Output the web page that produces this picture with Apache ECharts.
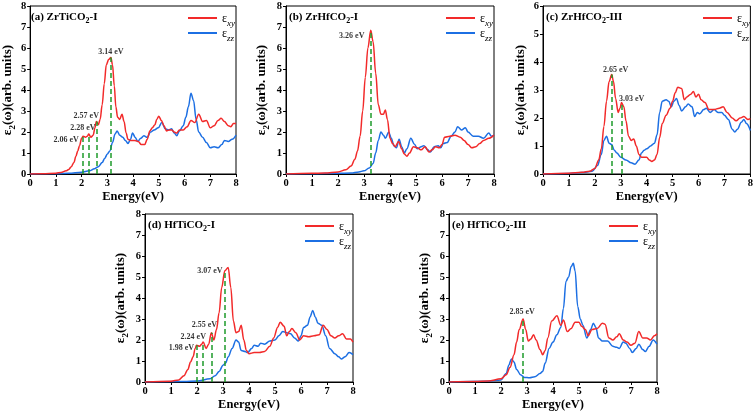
<!DOCTYPE html>
<html>
<head>
<meta charset="utf-8">
<script src="https://cdn.jsdelivr.net/npm/echarts@6/dist/echarts.min.js"></script>
<style>html,body{margin:0;padding:0;background:#fff}#c{width:756px;height:413px}</style>
</head>
<body>
<div id="c"></div>
<script>
// ---------- DATA ----------
const energyTicks = [0,1,2,3,4,5,6,7,8];
// (a) ZrTiCO2-I
const aXY = [[0,0],[0.5,0.01],[1,0.04],[1.2,0.07],[1.4,0.15],[1.5,0.22],[1.6,0.35],[1.7,0.55],[1.78,0.85],[1.85,1.1],[1.92,1.35],[2.0,1.7],[2.06,1.8],[2.15,1.75],[2.22,1.8],[2.28,1.9],[2.36,1.75],[2.45,1.85],[2.52,2.2],[2.57,2.5],[2.65,2.35],[2.72,2.6],[2.8,3.3],[2.88,4.3],[2.96,5.2],[3.05,5.45],[3.14,5.55],[3.2,5.2],[3.27,4.2],[3.33,3.2],[3.4,2.7],[3.48,2.6],[3.57,2.85],[3.65,2.5],[3.73,1.95],[3.8,1.65],[3.9,1.6],[4.05,1.6],[4.2,1.55],[4.32,1.4],[4.45,1.4],[4.55,1.65],[4.65,2.05],[4.75,2.2],[4.85,2.35],[4.92,2.6],[5.0,2.75],[5.1,2.55],[5.2,2.3],[5.3,2.05],[5.4,2.1],[5.5,2.1],[5.6,2.0],[5.7,1.95],[5.8,2.1],[5.95,2.1],[6.1,2.25],[6.25,2.55],[6.4,2.45],[6.55,2.85],[6.7,2.5],[6.85,2.55],[7.0,2.2],[7.15,2.3],[7.3,2.55],[7.42,2.65],[7.55,2.5],[7.7,2.3],[7.8,2.25],[7.9,2.4],[8.0,2.4]];
const aZZ = [[0,0],[1,0.01],[1.5,0.03],[2.0,0.08],[2.3,0.15],[2.5,0.25],[2.65,0.35],[2.8,0.55],[2.9,0.75],[3.0,0.95],[3.1,1.1],[3.2,1.5],[3.3,1.9],[3.38,2.05],[3.48,1.85],[3.6,1.75],[3.7,1.6],[3.8,1.45],[3.9,1.65],[3.98,1.95],[4.08,1.75],[4.18,1.55],[4.3,1.7],[4.42,1.82],[4.55,1.75],[4.68,2.0],[4.82,2.1],[4.98,2.2],[5.12,2.45],[5.25,2.15],[5.38,2.1],[5.5,2.15],[5.6,1.95],[5.7,1.82],[5.8,2.05],[5.95,2.3],[6.05,2.7],[6.15,3.2],[6.25,3.85],[6.35,3.5],[6.45,2.6],[6.55,2.0],[6.7,1.75],[6.85,1.5],[7.0,1.25],[7.15,1.3],[7.3,1.25],[7.45,1.4],[7.55,1.6],[7.7,1.55],[7.85,1.65],[8.0,1.85]];
const aPeaks = [[2.06,1.8],[2.28,1.9],[2.57,2.5],[3.14,5.55]];
// (b) ZrHfCO2-I
const bXY = [[0,0],[1,0.03],[1.5,0.05],[2,0.1],[2.3,0.2],[2.5,0.38],[2.65,0.7],[2.75,1.1],[2.85,1.8],[2.95,3.0],[3.05,4.6],[3.15,6.0],[3.26,6.85],[3.35,6.3],[3.45,4.8],[3.55,3.3],[3.65,2.85],[3.75,2.85],[3.82,3.05],[3.9,2.6],[4.0,1.7],[4.1,1.45],[4.2,1.3],[4.33,1.55],[4.45,1.2],[4.55,0.95],[4.65,0.85],[4.75,1.0],[4.9,1.3],[5.05,1.25],[5.2,1.15],[5.35,1.3],[5.5,1.05],[5.62,1.15],[5.75,1.3],[5.9,1.25],[6.0,1.4],[6.1,1.75],[6.3,1.8],[6.5,1.85],[6.7,1.75],[6.85,1.6],[7.0,1.4],[7.15,1.25],[7.3,1.3],[7.45,1.45],[7.6,1.6],[7.8,1.7],[8.0,1.85]];
const bZZ = [[0,0],[1,0.01],[2,0.03],[2.5,0.05],[2.8,0.1],[3.0,0.15],[3.2,0.28],[3.35,0.5],[3.45,1.0],[3.55,1.6],[3.65,2.0],[3.75,1.85],[3.82,1.7],[3.95,2.0],[4.05,1.7],[4.15,1.35],[4.25,1.25],[4.35,1.65],[4.45,1.3],[4.55,1.0],[4.65,1.2],[4.8,1.7],[4.95,1.4],[5.05,1.2],[5.2,1.3],[5.3,1.35],[5.45,1.15],[5.55,1.05],[5.7,1.3],[5.85,1.35],[5.95,1.25],[6.05,1.45],[6.2,1.5],[6.35,1.8],[6.5,2.0],[6.6,2.25],[6.75,2.1],[6.9,2.2],[7.0,2.0],[7.2,1.8],[7.4,1.8],[7.6,1.7],[7.8,1.95],[7.9,1.8],[8.0,1.85]];
const bPeaks = [[3.26,6.85]];
// (c) ZrHfCO2-III
const cXY = [[0,0],[1,0.03],[1.5,0.06],[1.8,0.1],[2.0,0.2],[2.15,0.5],[2.25,0.9],[2.35,1.7],[2.45,2.6],[2.55,3.3],[2.65,3.55],[2.72,3.3],[2.8,2.7],[2.9,2.2],[2.97,2.35],[3.03,2.55],[3.12,2.4],[3.2,1.9],[3.3,1.35],[3.4,1.2],[3.5,1.25],[3.6,1.0],[3.7,0.7],[3.8,0.6],[3.9,0.6],[4.0,0.6],[4.1,0.5],[4.2,0.45],[4.3,0.5],[4.4,0.7],[4.5,1.3],[4.6,1.8],[4.75,2.1],[4.9,2.35],[5.0,2.6],[5.1,2.9],[5.2,3.1],[5.35,3.05],[5.45,2.65],[5.55,2.75],[5.7,2.85],[5.8,2.95],[5.9,2.75],[6.0,2.85],[6.1,2.65],[6.25,2.55],[6.4,2.3],[6.6,2.3],[6.8,2.35],[6.95,2.4],[7.1,2.2],[7.3,2.0],[7.45,1.9],[7.6,2.0],[7.75,2.05],[7.9,1.95],[8.0,1.98]];
const cZZ = [[0,0],[1,0.02],[1.5,0.05],[1.9,0.1],[2.1,0.3],[2.25,0.7],[2.35,1.2],[2.45,1.35],[2.55,1.1],[2.65,1.05],[2.75,0.85],[2.85,0.75],[3.0,0.6],[3.2,0.5],[3.4,0.4],[3.55,0.35],[3.7,0.5],[3.8,0.75],[3.9,0.85],[4.0,0.9],[4.15,1.0],[4.3,1.1],[4.4,1.4],[4.5,2.2],[4.6,2.6],[4.75,2.65],[4.85,2.6],[4.95,2.4],[5.05,2.6],[5.15,2.7],[5.25,2.45],[5.35,2.25],[5.5,2.4],[5.6,2.5],[5.75,2.4],[5.85,2.05],[5.95,2.2],[6.05,2.15],[6.2,2.3],[6.3,2.35],[6.45,2.2],[6.6,2.3],[6.75,2.2],[6.9,2.2],[7.0,2.1],[7.15,1.95],[7.3,1.6],[7.4,1.5],[7.5,1.6],[7.65,1.85],[7.75,1.95],[7.85,1.8],[8.0,1.55]];
const cPeaks = [[2.65,3.55],[3.03,2.55]];
// (d) HfTiCO2-I
const dXY = [[0,0],[1,0.04],[1.3,0.1],[1.5,0.3],[1.65,0.6],[1.75,0.95],[1.85,1.2],[1.93,1.6],[1.98,1.75],[2.1,1.7],[2.18,1.8],[2.24,1.9],[2.35,1.6],[2.45,1.8],[2.55,2.35],[2.65,2.0],[2.75,2.5],[2.85,3.3],[2.95,4.5],[3.07,5.3],[3.2,5.45],[3.3,4.5],[3.4,2.9],[3.5,2.35],[3.6,2.4],[3.7,2.7],[3.8,2.0],[3.9,1.5],[4.0,1.35],[4.2,1.4],[4.4,1.4],[4.6,1.45],[4.8,1.7],[4.95,2.1],[5.1,2.6],[5.2,2.85],[5.35,2.65],[5.45,2.2],[5.55,2.4],[5.65,2.55],[5.8,2.35],[5.95,2.0],[6.1,2.2],[6.3,2.15],[6.5,2.2],[6.7,2.25],[6.85,2.7],[7.0,2.5],[7.15,2.2],[7.3,2.1],[7.45,2.2],[7.6,2.3],[7.75,2.05],[7.9,2.05],[8.0,1.9]];
const dZZ = [[0,0],[1.5,0.02],[2.0,0.05],[2.5,0.15],[2.7,0.3],[2.85,0.5],[3.0,0.8],[3.1,0.9],[3.2,1.2],[3.35,1.6],[3.5,2.0],[3.6,1.9],[3.7,1.5],[3.85,1.45],[3.95,1.4],[4.1,1.6],[4.2,1.75],[4.35,1.7],[4.45,1.85],[4.6,1.8],[4.8,1.95],[5.0,2.0],[5.15,2.2],[5.3,2.4],[5.45,2.35],[5.6,2.3],[5.75,2.1],[5.9,1.95],[6.0,2.2],[6.1,2.6],[6.25,2.7],[6.35,3.1],[6.45,3.4],[6.55,3.1],[6.65,2.8],[6.8,2.7],[6.95,2.2],[7.1,1.6],[7.3,1.35],[7.45,1.2],[7.55,1.1],[7.7,1.2],[7.85,1.4],[8.0,1.3]];
const dPeaks = [[1.98,1.75],[2.24,1.9],[2.55,2.35],[3.07,5.3]];
// (e) HfTiCO2-III
const eXY = [[0,0],[1,0.02],[1.5,0.05],[2.0,0.15],[2.2,0.35],[2.35,0.7],[2.5,1.3],[2.6,1.9],[2.7,2.5],[2.85,3.0],[2.95,2.5],[3.05,1.95],[3.15,2.05],[3.25,2.25],[3.35,2.0],[3.5,1.55],[3.6,1.3],[3.7,1.5],[3.8,2.1],[3.95,2.9],[4.15,3.15],[4.3,2.7],[4.4,2.95],[4.55,2.4],[4.7,2.55],[4.85,2.85],[5.0,2.85],[5.1,2.65],[5.25,2.5],[5.35,2.2],[5.5,2.5],[5.7,2.55],[5.9,2.8],[6.0,2.75],[6.15,2.1],[6.3,2.0],[6.45,2.15],[6.55,2.3],[6.7,2.0],[6.85,1.9],[7.0,1.75],[7.15,1.85],[7.3,2.4],[7.45,2.1],[7.6,2.1],[7.75,2.0],[7.9,2.2],[8.0,2.3]];
const eZZ = [[0,0],[1.5,0.03],[2.0,0.1],[2.2,0.4],[2.3,0.8],[2.4,1.1],[2.5,0.95],[2.6,0.6],[2.75,0.35],[2.9,0.22],[3.1,0.2],[3.3,0.25],[3.5,0.4],[3.6,0.5],[3.7,0.9],[3.85,1.6],[4.0,1.9],[4.15,2.25],[4.3,2.6],[4.4,3.5],[4.5,4.8],[4.6,5.0],[4.7,5.5],[4.78,5.65],[4.85,5.3],[4.95,3.6],[5.05,3.0],[5.15,2.7],[5.3,2.1],[5.45,2.5],[5.55,2.8],[5.65,2.6],[5.75,2.1],[5.9,1.95],[6.1,1.95],[6.3,1.7],[6.45,1.65],[6.55,1.6],[6.7,1.9],[6.8,1.85],[6.95,1.6],[7.05,1.4],[7.2,1.6],[7.3,1.8],[7.45,1.55],[7.55,1.45],[7.7,1.7],[7.85,2.0],[8.0,1.8]];
const ePeaks = [[2.85,3.0]];

const titles = [['(a) ZrTiCO','2','-I'],['(b) ZrHfCO','2','-I'],['(c) ZrHfCO','2','-III'],['(d) HfTiCO','2','-I'],['(e) HfTiCO','2','-III']];
const yMax = [8,8,6,8,8];

// ---------- LAYOUT / STYLE ----------
const FONT = 'Liberation Serif';
const RED = '#f22a2a', BLUE = '#1c6fe3', GREEN = '#1e9a2a';
const grids = [
  {left:28, top:6, width:208, height:168},
  {left:286, top:6, width:208, height:168},
  {left:543, top:6, width:208, height:168},
  {left:145, top:214, width:208, height:168},
  {left:449, top:214, width:208, height:168}
];
const nameGaps = [14,18,13,18,18];
// label offsets (px) from peak top, per panel
const labelOffs = [
  [[-17,4],[-6,-6],[-10,-6],[0,-6]],
  [[-19,6]],
  [[4,-5],[10,-4]],
  [[-15,3],[-10,-5],[-7,-8],[-15,0]],
  [[-1,-7]]
];
const panels = [[aXY,aZZ,aPeaks],[bXY,bZZ,bPeaks],[cXY,cZZ,cPeaks],[dXY,dZZ,dPeaks],[eXY,eZZ,ePeaks]];

const xAxis = [], yAxis = [], series = [], legend = [], title = [];
const subRich = {
  b: {fontFamily: FONT, fontWeight:'bold', fontSize:11, color:'#000', lineHeight:14, verticalAlign:'bottom'},
  s: {fontFamily: FONT, fontWeight:'bold', fontSize:8, color:'#000', lineHeight:10, verticalAlign:'bottom', padding:[0,0,-2,0]}
};
panels.forEach((p, i) => {
  const g = grids[i];
  xAxis.push({
    type:'value', gridIndex:i, min:0, max:8, interval:1,
    name:'Energy(eV)', nameLocation:'middle', nameGap:16,
    nameTextStyle:{fontFamily:FONT, fontWeight:'bold', fontSize:12.5, color:'#000'},
    axisLine:{show:true, onZero:false, lineStyle:{color:'#000', width:1}},
    axisTick:{show:true, length:3, lineStyle:{color:'#000'}},
    axisLabel:{fontFamily:FONT, fontWeight:'bold', fontSize:10.5, color:'#000', margin:4, formatter: v => String(energyTicks[v] ?? v)},
    splitLine:{show:false}
  });
  yAxis.push({
    type:'value', gridIndex:i, min:0, max:yMax[i], interval:1,
    name:'{e|ε}{s|2}{e|(ω)(arb. units)}', nameLocation:'middle', nameGap:nameGaps[i],
    nameTextStyle:{rich:{
      e:{fontFamily:FONT, fontWeight:'bold', fontSize:13, color:'#000', lineHeight:16, verticalAlign:'bottom'},
      s:{fontFamily:FONT, fontWeight:'bold', fontSize:9, color:'#000', lineHeight:12, verticalAlign:'bottom', padding:[0,0,-3,0]}
    }},
    axisLine:{show:true, onZero:false, lineStyle:{color:'#000', width:1}},
    axisTick:{show:true, length:3, lineStyle:{color:'#000'}},
    axisLabel:{fontFamily:FONT, fontWeight:'bold', fontSize:10.5, color:'#000', margin:4},
    splitLine:{show:false}
  });
  series.push({
    name:'xy', type:'line', xAxisIndex:i, yAxisIndex:i, data:p[0], symbol:'none', showSymbol:false,
    smooth:0.35, smoothMonotone:'x', lineStyle:{color:RED, width:1.5}, itemStyle:{color:RED}, z:3,
    markLine:{silent:true, symbol:'none', label:{show:false}, animation:false,
      lineStyle:{color:GREEN, type:[5,3], width:1.5},
      data: p[2].map(pk => [{coord:[pk[0],0]},{coord:[pk[0],pk[1]]}])}
  });
  series.push({
    name:'zz', type:'line', xAxisIndex:i, yAxisIndex:i, data:p[1], symbol:'none', showSymbol:false,
    smooth:0.35, smoothMonotone:'x', lineStyle:{color:BLUE, width:1.5}, itemStyle:{color:BLUE}, z:2
  });
  series.push({
    name:'peaks'+i, type:'scatter', xAxisIndex:i, yAxisIndex:i, symbolSize:0, silent:true, z:5,
    data: p[2].map((pk,k) => ({value:pk, label:{offset:labelOffs[i][k]}})),
    label:{show:true, position:'inside', fontFamily:FONT, fontWeight:'bold', fontSize:8, color:'#000',
      formatter: prm => prm.value[0].toFixed(2) + ' eV'}
  });
  legend.push({
    data:[{name:'xy', icon:'rect'},{name:'zz', icon:'rect'}], orient:'vertical', left:g.left + g.width - 53, top:g.top + 2,
    itemWidth:29, itemHeight:2, itemGap:0, selectedMode:false,
    formatter: n => '{e|ε}{s|' + n + '}',
    textStyle:{rich:{
      e:{fontFamily:FONT, fontSize:12, color:'#000', lineHeight:14, verticalAlign:'bottom'},
      s:{fontFamily:FONT, fontStyle:'italic', fontSize:9, color:'#000', lineHeight:10, verticalAlign:'bottom', padding:[0,0,-3,0]}
    }}
  });
  title.push({
    text:'{b|' + titles[i][0] + '}{s|' + titles[i][1] + '}{b|' + titles[i][2] + '}',
    left:g.left + 3, top:g.top + 3, padding:0,
    textStyle:{rich:subRich}
  });
});

const chart = echarts.init(document.getElementById('c'), null, {renderer:'canvas'});
chart.setOption({
  animation:false,
  backgroundColor:'#fff',
  title, legend,
  grid: grids.map(g => Object.assign({show:true, borderColor:'#000', borderWidth:1, backgroundColor:'transparent', containLabel:false}, g)),
  xAxis, yAxis, series
});
</script>
</body>
</html>
